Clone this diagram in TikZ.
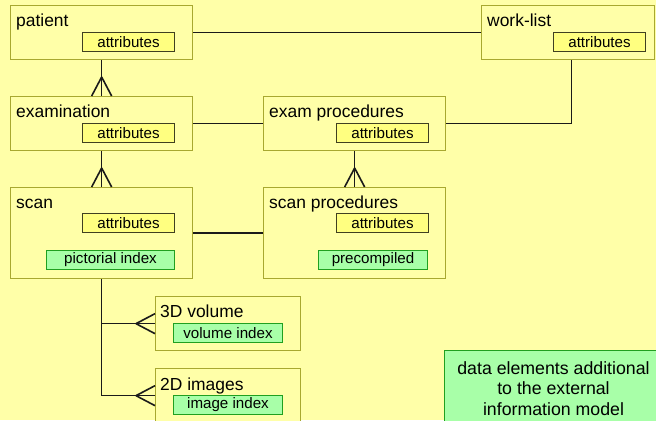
\documentclass[tikz,border=0pt]{standalone}
\usepackage{fontspec}
\setmainfont{Liberation Sans}
\definecolor{bg}{HTML}{FFFFA8}
\definecolor{entline}{HTML}{A8A830}
\definecolor{attfill}{HTML}{FFFF80}
\definecolor{attline}{HTML}{404020}
\definecolor{idxfill}{HTML}{A8FFA8}
\definecolor{idxline}{HTML}{20A020}
\definecolor{link}{HTML}{1A1A1A}
\tikzset{
  entity/.style={draw=entline, line width=1.3bp, fill=bg, anchor=north west,
    inner sep=0pt, minimum width=#1},
  entity/.default=182bp,
  title/.style={anchor=base west, inner sep=0pt, font=\fontsize{17.5}{20}\selectfont},
  attr/.style={draw=attline, line width=1bp, fill=attfill, anchor=north west,
    inner sep=0pt, minimum width=#1, minimum height=19bp,
    font=\fontsize{15.2}{18}\selectfont},
  attr/.default=92bp,
  idx/.style={attr=#1, draw=idxline, fill=idxfill},
  link/.style={draw=link, line width=1.6bp},
  notebox/.style={draw=idxline, line width=1bp, fill=idxfill, anchor=north west,
    inner sep=0pt, minimum width=218bp, minimum height=76bp, align=center,
    font=\fontsize{17.8}{20.5}\selectfont},
}
\begin{document}
\begin{tikzpicture}[x=1bp, y=-1bp]
  \useasboundingbox (0,0) rectangle (656,420);
  \clip (0,0) rectangle (656,420);
  \fill[bg] (0,0) rectangle (656,420);

  % entities
  \node[entity, minimum height=54bp] (patient) at (10,5) {};
  \node[entity, minimum height=54bp] (exam) at (10,96) {};
  \node[entity, minimum height=91bp] (scan) at (10,187) {};
  \node[entity, minimum height=54bp] (examproc) at (263,96) {};
  \node[entity, minimum height=91bp] (scanproc) at (263,187) {};
  \node[entity=173bp, minimum height=54bp] (worklist) at (481,5) {};
  \node[entity=145bp, minimum height=54bp] (volume) at (155,296) {};
  \node[entity=145bp, minimum height=54bp] (images) at (155,368) {};

  % entity titles
  \node[title] (tpatient) at ([xshift=6bp,yshift=-21bp]patient.north west) {patient};
  \node[title] (texam) at ([xshift=6bp,yshift=-21bp]exam.north west) {examination};
  \node[title] (tscan) at ([xshift=6bp,yshift=-21bp]scan.north west) {scan};
  \node[title] (texamproc) at ([xshift=6bp,yshift=-21bp]examproc.north west) {exam procedures};
  \node[title] (tscanproc) at ([xshift=6bp,yshift=-21bp]scanproc.north west) {scan procedures};
  \node[title] (tworklist) at ([xshift=6bp,yshift=-21bp]worklist.north west) {work-list};
  \node[title] (tvolume) at ([xshift=5bp,yshift=-21bp]volume.north west) {3D volume};
  \node[title] (timages) at ([xshift=5bp,yshift=-22bp]images.north west) {2D images};

  % attribute fields
  \node[attr] (apatient) at (82,32) {attributes};
  \node[attr] (aexam) at (82,123) {attributes};
  \node[attr] (ascan) at (82,213) {attributes};
  \node[attr] (aexamproc) at (336,123) {attributes};
  \node[attr] (ascanproc) at (336,213) {attributes};
  \node[attr] (aworklist) at (553,32) {attributes};

  % additional index fields
  \node[idx=128bp] (pictorial) at (46,250) {pictorial index};
  \node[idx=109bp] (precomp) at (318,250) {precompiled};
  \node[idx=109bp] (volidx) at (173,323) {volume index};
  \node[idx=109bp] (imgidx) at (173,395) {image index};

  % one-to-one links
  \draw[link] (patient.east) -- (worklist.west);
  \draw[link] (exam.east) -- (examproc.west);
  \draw[link] (scan.east) -- (scanproc.west);
  \coordinate (wlfoot) at ([xshift=3.5bp]worklist.south);
  \draw[link] (examproc.east) -| (wlfoot);

  % one-to-many links with crow's feet
  \draw[link] (patient.south) -- (exam.north);
  \draw[link] ([yshift=19bp]exam.north) -- ([xshift=-10bp]exam.north)
              ([yshift=19bp]exam.north) -- ([xshift=10bp]exam.north);
  \draw[link] (exam.south) -- (scan.north);
  \draw[link] ([yshift=19bp]scan.north) -- ([xshift=-10bp]scan.north)
              ([yshift=19bp]scan.north) -- ([xshift=10bp]scan.north);
  \draw[link] (examproc.south) -- (scanproc.north);
  \draw[link] ([yshift=19bp]scanproc.north) -- ([xshift=-10bp]scanproc.north)
              ([yshift=19bp]scanproc.north) -- ([xshift=10bp]scanproc.north);

  \draw[link] (scan.south) |- (images.west);
  \draw[link] (scan.south |- volume.west) -- (volume.west);
  \draw[link] ([xshift=-19bp]volume.west) -- ([yshift=10bp]volume.west)
              ([xshift=-19bp]volume.west) -- ([yshift=-10bp]volume.west);
  \draw[link] ([xshift=-19bp]images.west) -- ([yshift=10bp]images.west)
              ([xshift=-19bp]images.west) -- ([yshift=-10bp]images.west);

  % legend
  \node[notebox] (note) at (444,350) {data elements additional\\to the external\\information model};
\end{tikzpicture}
\end{document}
